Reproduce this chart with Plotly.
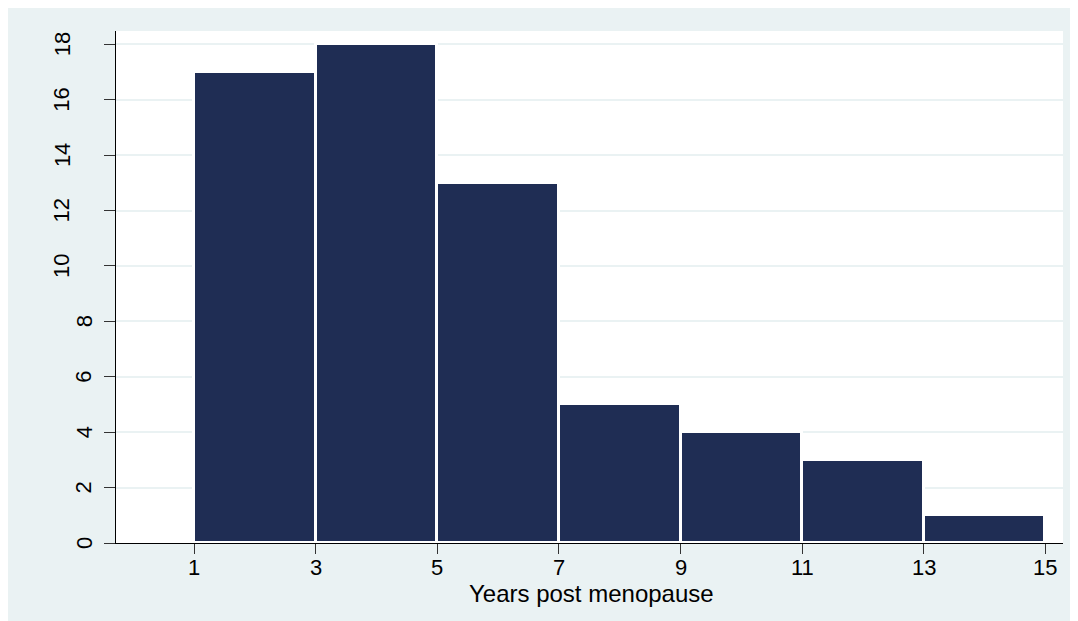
import plotly.graph_objects as go

# ---- data ----
bin_starts = [1, 3, 5, 7, 9, 11, 13]
counts = [17, 18, 13, 5, 4, 3, 1]
bin_width = 2
x_ticks = [1, 3, 5, 7, 9, 11, 13, 15]
y_ticks = [0, 2, 4, 6, 8, 10, 12, 14, 16, 18]
x_title = "Years post menopause"

# ---- style ----
OUTER = "#EAF2F3"
BAR = "#1F2D54"
GRID = "#EAF2F3"
FONT = "Liberation Sans, Arial, Helvetica, sans-serif"

W, H = 1078, 621
ml, mr, mt, mb = 108, 23, 23, 86

fig = go.Figure(
    go.Bar(
        x=bin_starts,
        y=counts,
        width=bin_width,
        offset=0,
        marker=dict(color=BAR, line=dict(color="white", width=3)),
        hoverinfo="x+y",
    )
)

annotations = []
for v in y_ticks:
    lab = str(v)
    annotations.append(
        dict(
            text=lab,
            x=0,
            xref="paper",
            y=v,
            yref="y",
            textangle=-90,
            xanchor="center",
            yanchor="middle",
            xshift=-54 if len(lab) > 1 else -32,
            showarrow=False,
            borderpad=0,
            font=dict(family=FONT, size=22, color="black"),
        )
    )
for v in x_ticks:
    annotations.append(
        dict(
            text=str(v),
            x=v,
            xref="x",
            y=0,
            yref="paper",
            xanchor="center",
            yanchor="middle",
            yshift=-24,
            showarrow=False,
            borderpad=0,
            font=dict(family=FONT, size=22, color="black"),
        )
    )
annotations.append(
    dict(
        text=x_title,
        x=0.5,
        xref="paper",
        y=0,
        yref="paper",
        xanchor="center",
        yanchor="middle",
        xshift=2,
        yshift=-50,
        showarrow=False,
        borderpad=0,
        font=dict(family=FONT, size=24, color="black"),
    )
)

fig.update_layout(
    width=W,
    height=H,
    margin=dict(l=ml, r=mr, t=mt, b=mb, pad=0),
    paper_bgcolor=OUTER,
    plot_bgcolor="white",
    showlegend=False,
    bargap=0,
    font=dict(family=FONT, size=22, color="black"),
    annotations=annotations,
    xaxis=dict(
        range=[-0.284, 15.29],
        tickvals=x_ticks,
        ticks="outside",
        ticklen=10,
        tickwidth=1.3,
        tickcolor="#333333",
        showticklabels=False,
        showline=True,
        linecolor="black",
        linewidth=1.3,
        showgrid=False,
        zeroline=False,
    ),
    yaxis=dict(
        range=[0, 18.48],
        tickvals=y_ticks,
        ticks="outside",
        ticklen=11,
        tickwidth=1.3,
        tickcolor="#333333",
        showticklabels=False,
        showline=True,
        linecolor="black",
        linewidth=1.3,
        showgrid=True,
        gridcolor=GRID,
        gridwidth=2,
        zeroline=False,
    ),
)

fig.write_html("out.html")
